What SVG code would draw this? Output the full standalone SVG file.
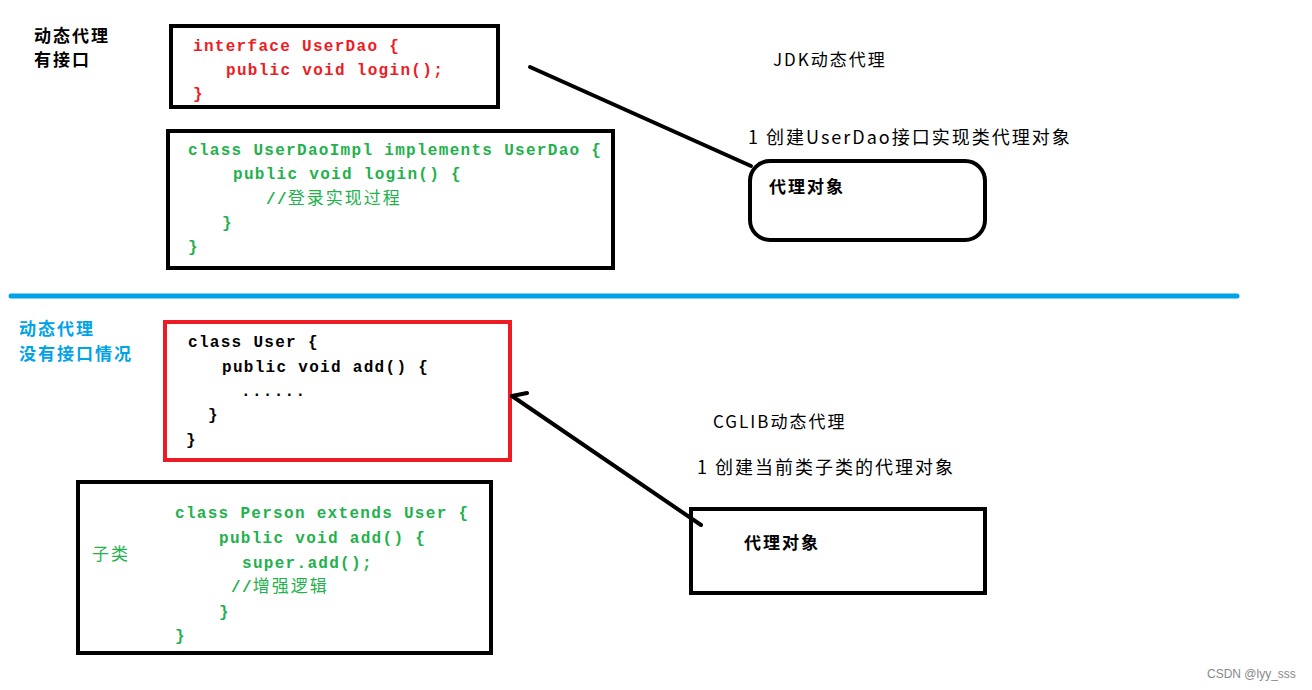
<svg xmlns="http://www.w3.org/2000/svg" width="1312" height="690" viewBox="0 0 1312 690">
<style>
.code{font-family:"Liberation Mono","Noto Sans CJK SC",monospace;font-size:16px;font-weight:bold;letter-spacing:1.3px}
.lbl{font-family:"Noto Sans CJK SC","Liberation Sans",sans-serif;font-size:17px;letter-spacing:2px}
.lg{font-size:18px}
.b{font-weight:bold}
.red{fill:#ed1c24}
.grn{fill:#22b14c}
.blk{fill:#000}
.blu{fill:#00a2e8}
.box{fill:none;stroke:#000;stroke-width:4}
.cjk{font-family:"Noto Sans CJK SC",sans-serif;font-size:17px;letter-spacing:2px;font-weight:normal}
</style>
<rect width="1312" height="690" fill="#fff"/>

<g id="label-top">
<text class="lbl b blk" x="34" y="42">动态代理</text>
<text class="lbl b blk" x="34" y="66">有接口</text>
</g>

<g id="interface-box">
<rect class="box" x="171" y="26" width="327" height="81"/>
<text class="code red" x="193" y="51">interface UserDao {</text>
<text class="code red" x="226" y="75">public void login();</text>
<text class="code red" x="193" y="99">}</text>
</g>

<g id="impl-box">
<rect class="box" x="168" y="131" width="445" height="137"/>
<text class="code grn" x="188" y="155">class UserDaoImpl implements UserDao {</text>
<text class="code grn" x="233" y="179">public void login() {</text>
<text class="code grn" x="266" y="204">//<tspan class="cjk">登录实现过程</tspan></text>
<text class="code grn" x="222" y="228">}</text>
<text class="code grn" x="188" y="252">}</text>
</g>

<g id="jdk-label">
<text class="lbl blk" x="773" y="66">JDK动态代理</text>
<text class="lbl lg blk" x="748" y="144">1 创建UserDao接口实现类代理对象</text>
</g>

<g id="jdk-proxy">
<rect class="box" x="750" y="161" width="235" height="79" rx="20" ry="20"/>
<text class="lbl b blk" x="769" y="193">代理对象</text>
</g>

<g id="separator">
<line x1="11" y1="296" x2="1237" y2="296" stroke="#00a2e8" stroke-width="5" stroke-linecap="round"/>
</g>

<g id="label-bottom">
<text class="lbl b blu" x="19" y="335">动态代理</text>
<text class="lbl b blu" x="19" y="360">没有接口情况</text>
</g>

<g id="user-box">
<rect x="165" y="322" width="345" height="138" fill="none" stroke="#ed1c24" stroke-width="4"/>
<text class="code blk" x="188" y="347">class User {</text>
<text class="code blk" x="222" y="372">public void add() {</text>
<text class="code blk" x="241" y="396">......</text>
<text class="code blk" x="208" y="420">}</text>
<text class="code blk" x="186" y="445">}</text>
</g>

<g id="person-box">
<rect class="box" x="78" y="482" width="413" height="171"/>
<text class="lbl grn" x="92" y="560" style="font-weight:normal">子类</text>
<text class="code grn" x="175" y="518">class Person extends User {</text>
<text class="code grn" x="219" y="543">public void add() {</text>
<text class="code grn" x="242" y="568">super.add();</text>
<text class="code grn" x="231" y="592">//<tspan class="cjk">增强逻辑</tspan></text>
<text class="code grn" x="219" y="617">}</text>
<text class="code grn" x="175" y="641">}</text>
</g>

<g id="cglib-label">
<text class="lbl blk" x="713" y="428">CGLIB动态代理</text>
<text class="lbl lg blk" x="697" y="474">1 创建当前类子类的代理对象</text>
</g>

<g id="cglib-proxy">
<rect class="box" x="691" y="509" width="294" height="84"/>
<text class="lbl b blk" x="744" y="549">代理对象</text>
</g>

<g id="connectors" fill="none" stroke="#000" stroke-width="4" stroke-linecap="round" stroke-linejoin="round">
<line x1="530" y1="67" x2="751" y2="166"/>
<polyline points="527,393 512,396 701,525"/>
</g>

<g id="watermark">
<text x="1207" y="678" font-family="Liberation Sans, sans-serif" font-size="12" fill="#888">CSDN @lyy_sss</text>
</g>
</svg>
